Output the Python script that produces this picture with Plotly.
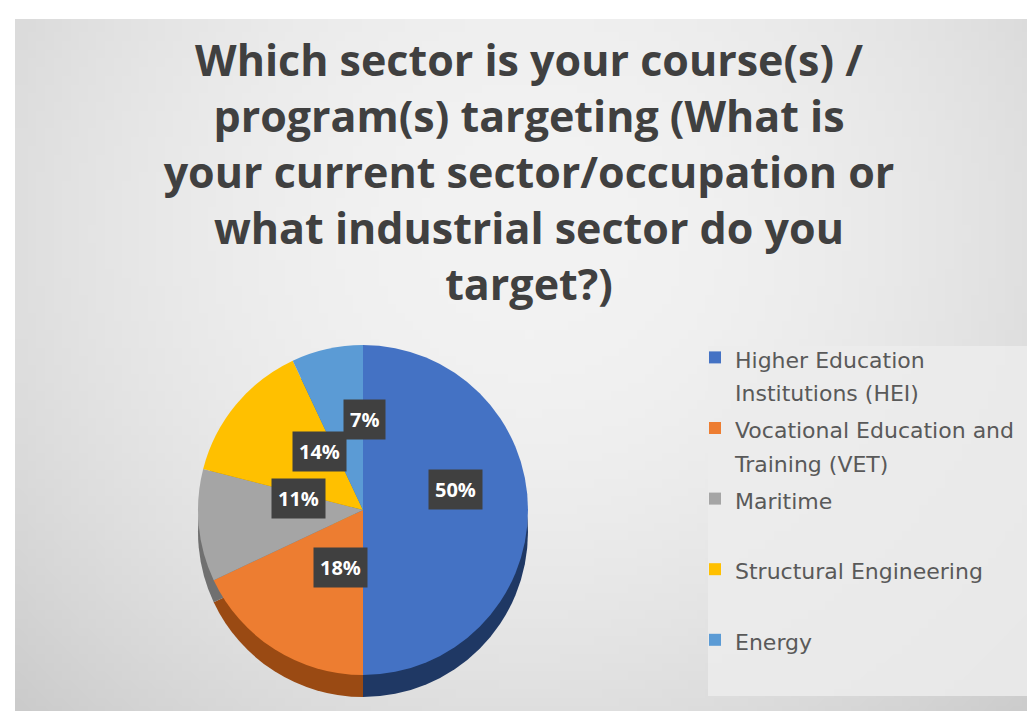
import math
import zlib
import struct
import base64
import plotly.graph_objects as go

# ---------------- data ----------------
categories = [
    "Higher Education Institutions (HEI)",
    "Vocational Education and Training (VET)",
    "Maritime",
    "Structural Engineering",
    "Energy",
]
values = [50, 18, 11, 14, 7]
legend_lines = [
    ["Higher Education", "Institutions (HEI)"],
    ["Vocational Education and", "Training (VET)"],
    ["Maritime", " "],
    ["Structural Engineering", " "],
    ["Energy", " "],
]
title_lines = [
    "Which sector is your course(s) /",
    "program(s) targeting (What is",
    "your current sector/occupation or",
    "what industrial sector do you",
    "target?)",
]

# ---------------- style ----------------
colors = ["#4472C4", "#ED7D31", "#A5A5A5", "#FFC000", "#5B9BD5"]
side_colors = ["#1F3864", "#9A4A13", "#707070", "#B08400", "#2F6BA3"]
W, H = 1035, 711
cx, cy, r = 355, 502, 165
depth = 22


def gradient_png(w, h):
    rows = []
    for j in range(h):
        y = j / (h - 1)
        row = bytearray([0])
        for i in range(w):
            x = i / (w - 1)
            e = ((x - 0.5) / 0.5) ** 2
            f = ((y - 0.3) / 0.7) ** 2
            v = int(243 - 40 * (e + f) / 2)
            row += bytes([v, v, v])
        rows.append(bytes(row))
    raw = b"".join(rows)

    def chunk(tag, data):
        c = struct.pack(">I", len(data)) + tag + data
        return c + struct.pack(">I", zlib.crc32(tag + data) & 0xFFFFFFFF)

    png = b"\x89PNG\r\n\x1a\n"
    png += chunk(b"IHDR", struct.pack(">IIBBBBB", w, h, 8, 2, 0, 0, 0))
    png += chunk(b"IDAT", zlib.compress(raw, 9))
    png += chunk(b"IEND", b"")
    return "data:image/png;base64," + base64.b64encode(png).decode()


def domain(cyy):
    return dict(
        x=[(cx - r) / W, (cx + r) / W],
        y=[1 - (cyy + r) / H, 1 - (cyy - r) / H],
    )


legend_labels = [
    "<span style='font-size:22px'>" + "<br>".join(lines) + "</span>"
    for lines in legend_lines
]

fig = go.Figure()

# side (depth) of the pie
fig.add_trace(go.Pie(
    labels=categories,
    values=values,
    sort=False,
    direction="clockwise",
    rotation=0,
    marker=dict(colors=side_colors, line=dict(width=0)),
    textinfo="none",
    hoverinfo="skip",
    showlegend=False,
    domain=domain(cy + depth),
))

# top surface
fig.add_trace(go.Pie(
    labels=legend_labels,
    values=values,
    sort=False,
    direction="clockwise",
    rotation=0,
    marker=dict(colors=colors, line=dict(width=0)),
    textinfo="none",
    hovertemplate="%{label}: %{percent}<extra></extra>",
    domain=domain(cy),
))

# data labels (dark boxes)
total = sum(values)
annotations = []
cum = 0
for v in values:
    mid = (cum + v / 2) / total
    cum += v
    th = 2 * math.pi * mid
    k = 0.56
    px = cx + k * r * math.sin(th)
    py = cy - k * r * math.cos(th)
    annotations.append(dict(
        x=px / W, y=1 - py / H, xref="paper", yref="paper",
        text="<b>%d%%</b>" % round(100 * v / total),
        showarrow=False,
        font=dict(family="Open Sans", size=20, color="white"),
        bgcolor="#404040",
        borderpad=6,
    ))

fig.update_layout(
    width=W,
    height=H,
    margin=dict(l=0, r=0, t=0, b=0),
    paper_bgcolor="white",
    plot_bgcolor="rgba(0,0,0,0)",
    title=dict(
        text="<br>".join(title_lines),
        x=521 / W,
        xanchor="center",
        y=1 - 68 / H,
        yanchor="top",
        font=dict(family="Open Sans", size=43, color="#404040", weight=700),
    ),
    legend=dict(
        x=687 / W,
        xanchor="left",
        y=1 - 326 / H,
        yanchor="top",
        bgcolor="rgba(0,0,0,0)",
        font=dict(family="DejaVu Sans", size=26, color="#595959"),
        valign="top",
        itemclick=False,
    ),
    images=[dict(
        source=gradient_png(120, 80),
        xref="paper", yref="paper",
        x=7 / W, y=1 - 11 / H,
        sizex=1 - 7 / W, sizey=1 - 11 / H,
        xanchor="left", yanchor="top",
        sizing="stretch",
        layer="below",
    )],
    shapes=[dict(
        type="rect", xref="paper", yref="paper",
        x0=700 / W, x1=1033 / W,
        y0=1 - 688 / H, y1=1 - 338 / H,
        fillcolor="rgba(236,236,236,0.85)",
        line=dict(width=0),
        layer="below",
    )],
    annotations=annotations,
)

fig.write_html("out.html")
